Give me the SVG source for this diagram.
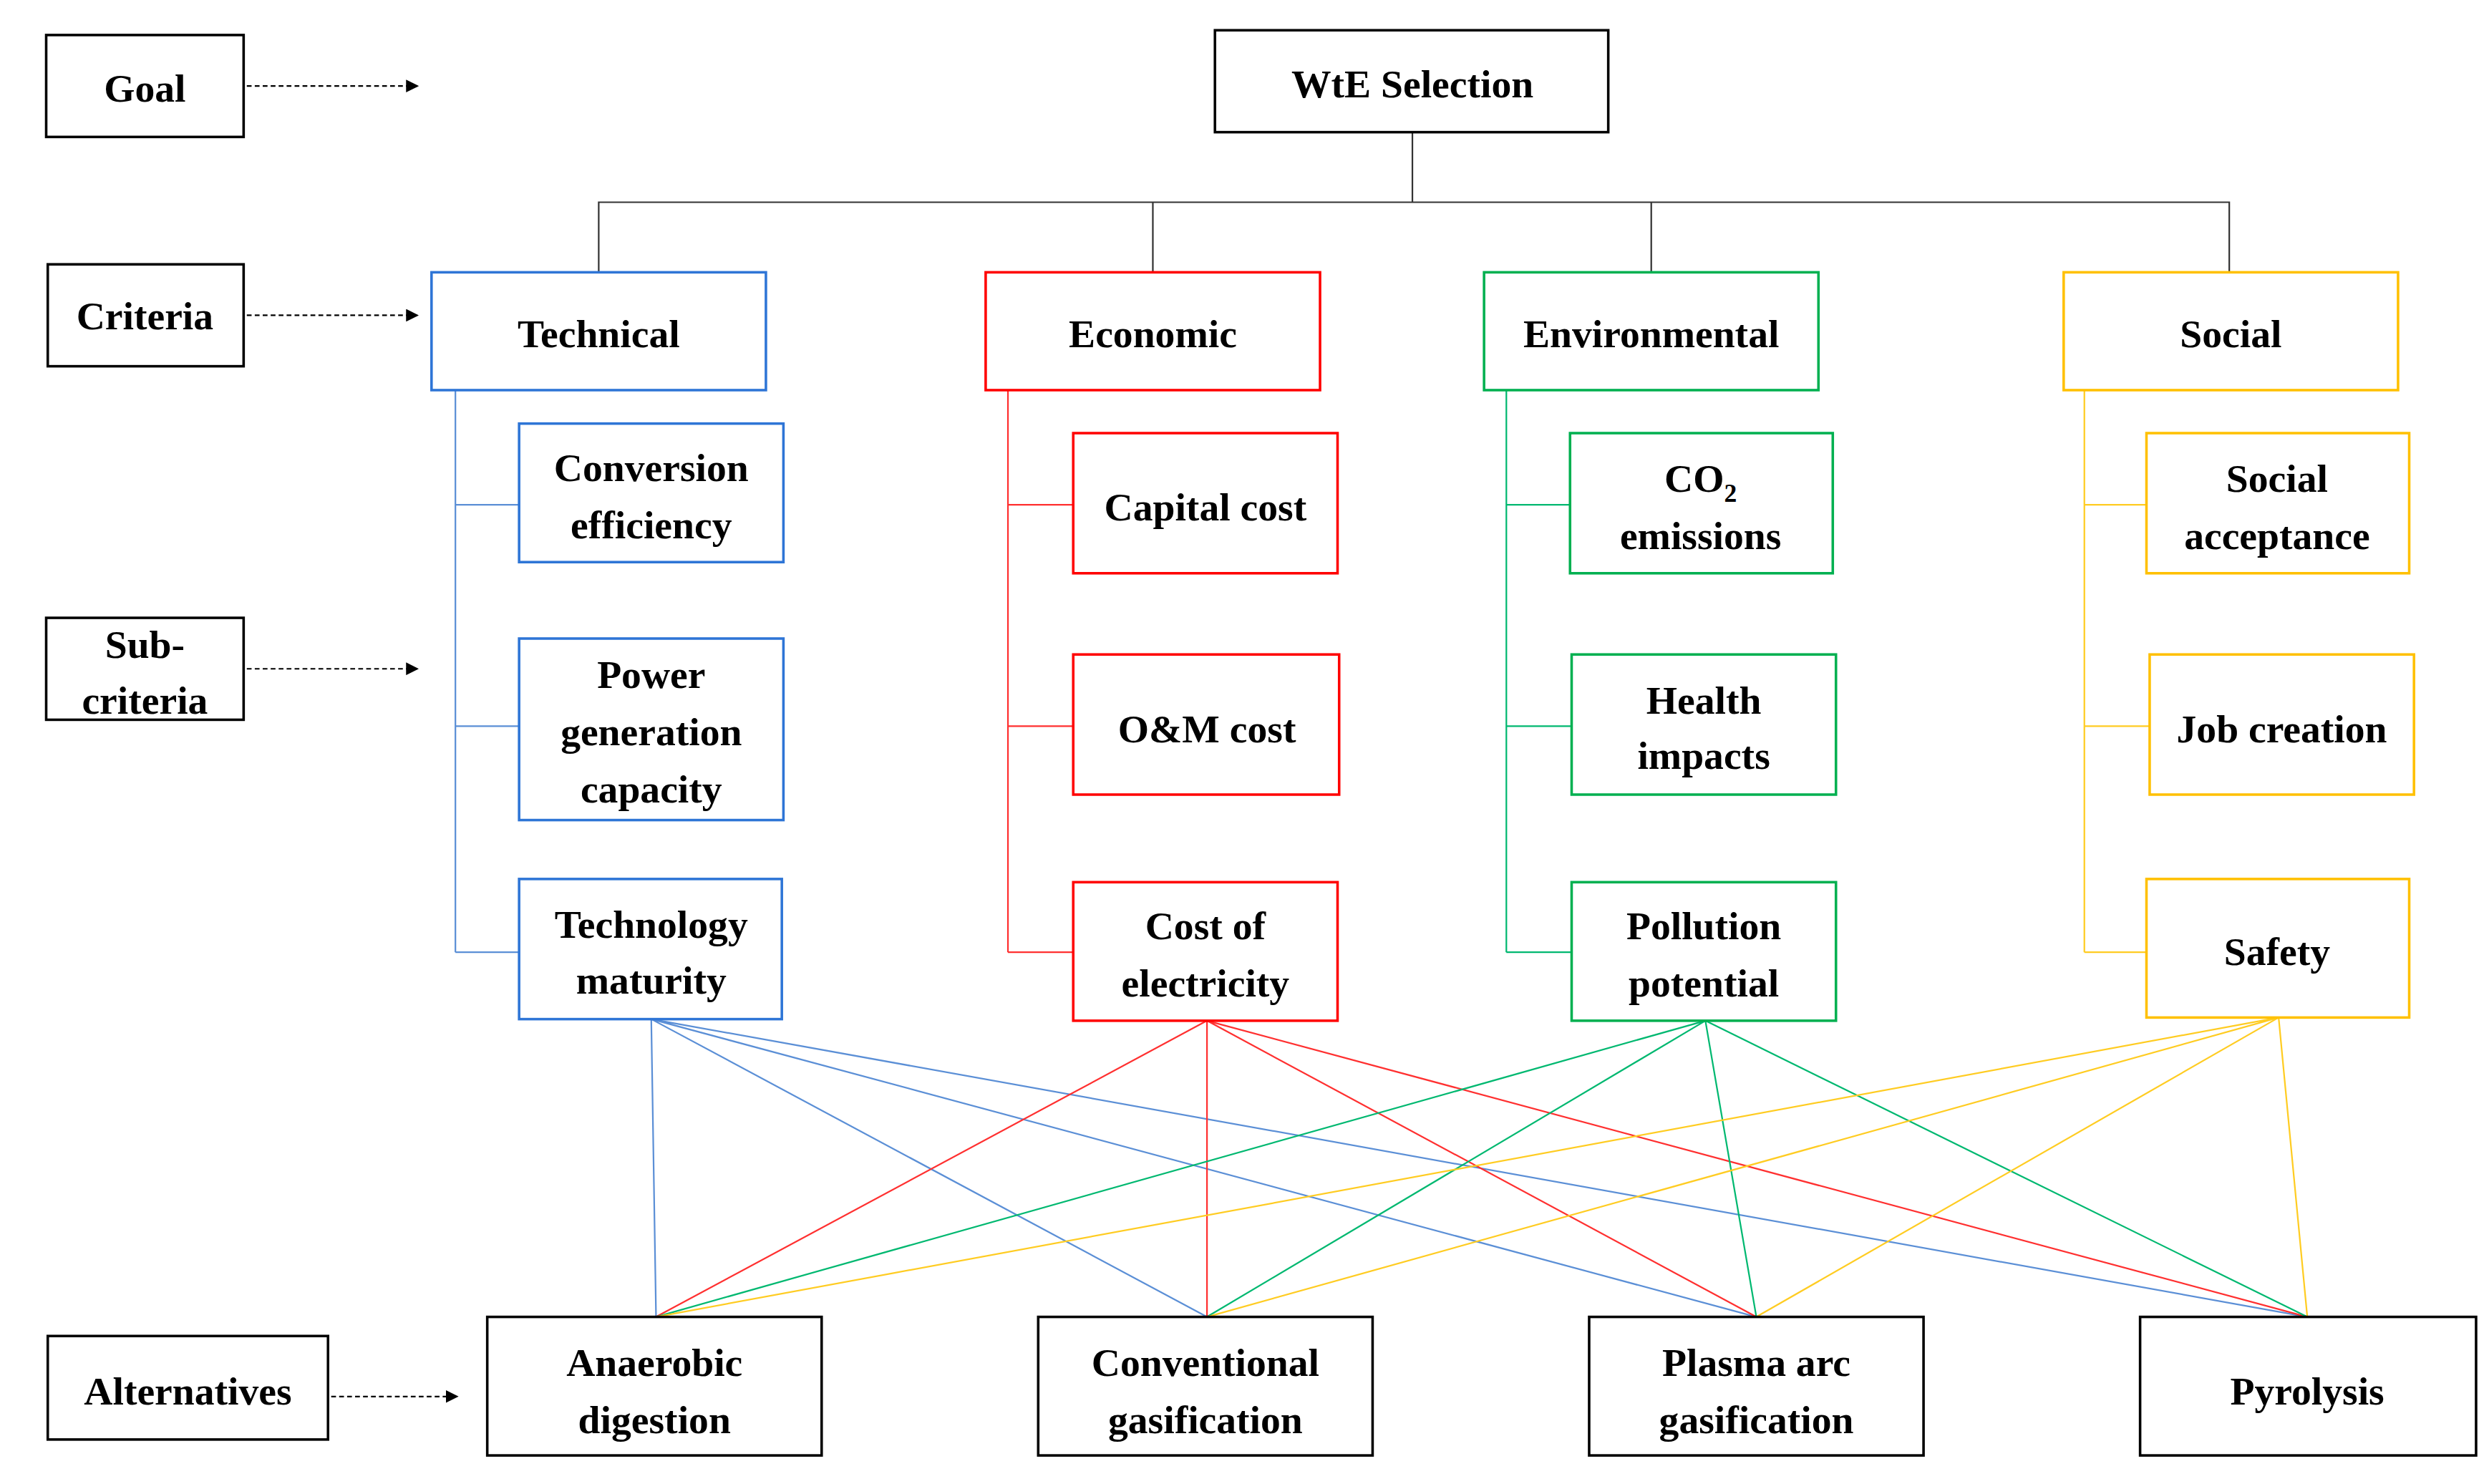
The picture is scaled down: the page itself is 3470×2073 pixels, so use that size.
<svg xmlns="http://www.w3.org/2000/svg" width="3470" height="2073" viewBox="0 0 3470 2073">
<style>
text{font-family:"Liberation Serif",serif;font-weight:bold;font-size:25px;text-anchor:middle;fill:#000}
.k{fill:#fff;stroke:#000;stroke-width:1.6}
.b{fill:#fff;stroke:#2e75d6;stroke-width:1.6}
.r{fill:#fff;stroke:#ff0000;stroke-width:1.6}
.g{fill:#fff;stroke:#00b050;stroke-width:1.6}
.y{fill:#fff;stroke:#ffc000;stroke-width:1.6}
.lb{stroke:#5b8fd6;stroke-width:1;fill:none}
.lr{stroke:#ff3030;stroke-width:1;fill:none}
.lg{stroke:#00b870;stroke-width:1;fill:none}
.ly{stroke:#ffcc22;stroke-width:1;fill:none}
.lk{stroke:#333;stroke-width:1;fill:none}
.d{stroke:#000;stroke-width:1;stroke-dasharray:3,2;fill:none}
</style>
<defs><marker id="ah" markerWidth="8" markerHeight="8" refX="7" refY="4" orient="auto" markerUnits="userSpaceOnUse"><path d="M0,0L8,4L0,8Z" fill="#000"/></marker></defs>
<rect width="3470" height="2073" fill="#fff"/>
<g transform="scale(2.2244)">
<g id="connectors">
<path class="d" d="M155,54H262" marker-end="url(#ah)"/>
<path class="d" d="M155,198H262" marker-end="url(#ah)"/>
<path class="d" d="M155,420H262" marker-end="url(#ah)"/>
<path class="d" d="M208,877H287" marker-end="url(#ah)"/>
<path class="lk" d="M887,83V127M376,171V127H1400V171M724,127V171M1037,127V171"/>
<path class="lb" d="M286,245V598M286,317H326M286,456H326M286,598H326"/>
<path class="lr" d="M633,245V598M633,317H674M633,456H674M633,598H674"/>
<path class="lg" d="M946,245V598M946,317H986M946,456H987M946,598H987"/>
<path class="ly" d="M1309,245V598M1309,317H1348M1309,456H1350M1309,598H1348"/>
<path class="lb" d="M409,640L412,827M409,640L758,827M409,640L1103,827M409,640L1449,827"/>
<path class="lr" d="M758,641L412,827M758,641L758,827M758,641L1103,827M758,641L1449,827"/>
<path class="lg" d="M1071,641L412,827M1071,641L758,827M1071,641L1103,827M1071,641L1449,827"/>
<path class="ly" d="M1431,639L412,827M1431,639L758,827M1431,639L1103,827M1431,639L1449,827"/>
</g>
<g id="goal"><rect class="k" x="29" y="22" width="124" height="64"/><text x="91" y="64">Goal</text></g>
<g id="criteria"><rect class="k" x="30" y="166" width="123" height="64"/><text x="91" y="207">Criteria</text></g>
<g id="subcriteria"><rect class="k" x="29" y="388" width="124" height="64"/><text x="91" y="413">Sub-</text><text x="91" y="448">criteria</text></g>
<g id="alternatives"><rect class="k" x="30" y="839" width="176" height="65"/><text x="118" y="882">Alternatives</text></g>
<g id="wte"><rect class="k" x="763" y="19" width="247" height="64"/><text x="887" y="61">WtE Selection</text></g>
<g id="technical"><rect class="b" x="271" y="171" width="210" height="74"/><text x="376" y="218">Technical</text></g>
<g id="economic"><rect class="r" x="619" y="171" width="210" height="74"/><text x="724" y="218">Economic</text></g>
<g id="environmental"><rect class="g" x="932" y="171" width="210" height="74"/><text x="1037" y="218">Environmental</text></g>
<g id="social"><rect class="y" x="1296" y="171" width="210" height="74"/><text x="1401" y="218">Social</text></g>
<g id="conv-eff"><rect class="b" x="326" y="266" width="166" height="87"/><text x="409" y="302">Conversion</text><text x="409" y="338">efficiency</text></g>
<g id="power"><rect class="b" x="326" y="401" width="166" height="114"/><text x="409" y="432">Power</text><text x="409" y="468">generation</text><text x="409" y="504">capacity</text></g>
<g id="tech-mat"><rect class="b" x="326" y="552" width="165" height="88"/><text x="409" y="589">Technology</text><text x="409" y="624">maturity</text></g>
<g id="capital"><rect class="r" x="674" y="272" width="166" height="88"/><text x="757" y="327">Capital cost</text></g>
<g id="om"><rect class="r" x="674" y="411" width="167" height="88"/><text x="758" y="466">O&amp;M cost</text></g>
<g id="coe"><rect class="r" x="674" y="554" width="166" height="87"/><text x="757" y="590">Cost of</text><text x="757" y="626">electricity</text></g>
<g id="co2"><rect class="g" x="986" y="272" width="165" height="88"/><text x="1068" y="309">CO<tspan font-size="16" dy="6">2</tspan></text><text x="1068" y="345">emissions</text></g>
<g id="health"><rect class="g" x="987" y="411" width="166" height="88"/><text x="1070" y="448">Health</text><text x="1070" y="483">impacts</text></g>
<g id="pollution"><rect class="g" x="987" y="554" width="166" height="87"/><text x="1070" y="590">Pollution</text><text x="1070" y="626">potential</text></g>
<g id="acceptance"><rect class="y" x="1348" y="272" width="165" height="88"/><text x="1430" y="309">Social</text><text x="1430" y="345">acceptance</text></g>
<g id="jobs"><rect class="y" x="1350" y="411" width="166" height="88"/><text x="1433" y="466">Job creation</text></g>
<g id="safety"><rect class="y" x="1348" y="552" width="165" height="87"/><text x="1430" y="606">Safety</text></g>
<g id="ad"><rect class="k" x="306" y="827" width="210" height="87"/><text x="411" y="864">Anaerobic</text><text x="411" y="900">digestion</text></g>
<g id="cg"><rect class="k" x="652" y="827" width="210" height="87"/><text x="757" y="864">Conventional</text><text x="757" y="900">gasification</text></g>
<g id="pa"><rect class="k" x="998" y="827" width="210" height="87"/><text x="1103" y="864">Plasma arc</text><text x="1103" y="900">gasification</text></g>
<g id="py"><rect class="k" x="1344" y="827" width="211" height="87"/><text x="1449" y="882">Pyrolysis</text></g>
</g>
</svg>
